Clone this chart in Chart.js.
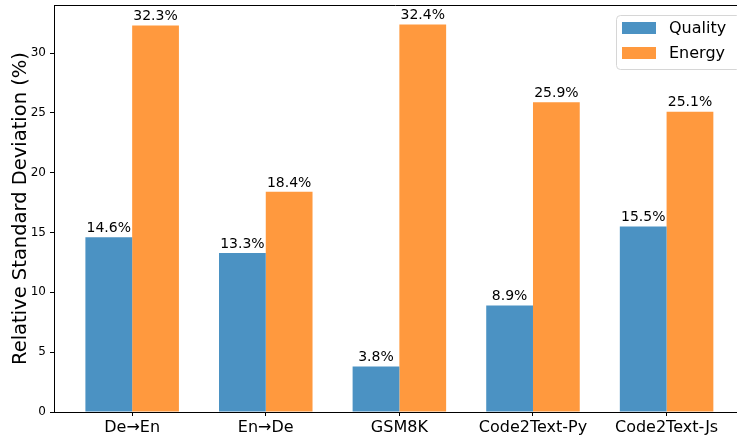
<!DOCTYPE html>
<html>
<head>
<meta charset="utf-8">
<script src="https://cdn.jsdelivr.net/npm/chart.js@4/dist/chart.umd.min.js"></script>
<style>
  html, body { margin: 0; padding: 0; overflow: hidden; background: #fff; }
  canvas { display: block; }
</style>
</head>
<body>
<canvas id="chart" width="737" height="438"></canvas>
<script>
// Chart data
const categories = ['De→En', 'En→De', 'GSM8K', 'Code2Text-Py', 'Code2Text-Js'];
const seriesNames = ['Quality', 'Energy'];
const qualityValues = [14.6, 13.3, 3.8, 8.9, 15.5];
const energyValues = [32.3, 18.4, 32.4, 25.9, 25.1];
const yTicks = [0, 5, 10, 15, 20, 25, 30];

const blue = '#4b92c3';
const orange = '#ff993e';

Chart.defaults.font.family = 'DejaVu Sans';
Chart.defaults.color = '#000';

// Percent labels on top of each bar
const barLabels = {
    id: 'barLabels',
    afterDatasetsDraw(chart) {
        const ctx = chart.ctx;
        ctx.save();
        ctx.font = '14px "DejaVu Sans"';
        ctx.fillStyle = '#000';
        ctx.textAlign = 'center';
        ctx.textBaseline = 'bottom';
        chart.data.datasets.forEach((ds, i) => {
            chart.getDatasetMeta(i).data.forEach((bar, j) => {
                ctx.fillText(ds.data[j].toFixed(1) + '%', bar.x, bar.y - 2);
            });
        });
        ctx.restore();
    }
};

// Top spine (the right one falls just outside the picture)
const frame = {
    id: 'frame',
    afterDraw(chart) {
        const {ctx, chartArea: a} = chart;
        ctx.save();
        ctx.strokeStyle = '#000';
        ctx.lineWidth = 1;
        ctx.beginPath();
        ctx.moveTo(a.left, a.top + 0.5);
        ctx.lineTo(a.right, a.top + 0.5);
        ctx.stroke();
        ctx.restore();
    }
};

// Matplotlib-like legend box in upper right, cut by the picture edge
const boxLegend = {
    id: 'boxLegend',
    afterDraw(chart) {
        const {ctx, chartArea: a} = chart;
        const x = a.right - 121, y = a.top + 10, w = 124, h = 54, r = 4;
        ctx.save();
        ctx.fillStyle = 'rgba(255,255,255,0.8)';
        ctx.strokeStyle = '#d6d6d6';
        ctx.lineWidth = 1;
        ctx.beginPath();
        ctx.roundRect(x + 0.5, y + 0.5, w, h, r);
        ctx.fill();
        ctx.stroke();
        ctx.font = '16px "DejaVu Sans"';
        ctx.textBaseline = 'middle';
        ctx.textAlign = 'left';
        chart.data.datasets.forEach((ds, i) => {
            const cy = y + 13 + i * 25;
            ctx.fillStyle = ds.backgroundColor;
            ctx.fillRect(x + 6, cy - 6, 34, 12);
            ctx.fillStyle = '#000';
            ctx.fillText(ds.label, x + 53, cy + 1);
        });
        ctx.restore();
    }
};

new Chart(document.getElementById('chart'), {
    type: 'bar',
    data: {
        labels: categories.map((c, i) => i),
        datasets: [
            { label: seriesNames[0], data: qualityValues, backgroundColor: blue },
            { label: seriesNames[1], data: energyValues, backgroundColor: orange }
        ]
    },
    options: {
        responsive: false,
        animation: false,
        devicePixelRatio: 1,
        categoryPercentage: 0.7,
        barPercentage: 1.0,
        layout: { padding: { top: 5, right: 0, left: 0, bottom: 0 } },
        plugins: {
            legend: { display: false },
            tooltip: { enabled: false }
        },
        scales: {
            x: {
                type: 'linear',
                offset: false,
                min: -0.585,
                max: 4.527,
                afterBuildTicks: scale => {
                    scale.ticks = categories.map((c, i) => ({ value: i }));
                },
                afterFit: scale => {
                    scale.height = 26;
                    scale.paddingLeft = 0;
                    scale.paddingRight = 0;
                },
                grid: { offset: false, drawOnChartArea: false, tickLength: 4, tickColor: '#000' },
                border: { color: '#000', width: 1 },
                ticks: {
                    font: { size: 16 },
                    padding: 2,
                    maxRotation: 0,
                    autoSkip: false,
                    callback: v => categories[v]
                }
            },
            y: {
                min: 0,
                max: 34.02,
                afterBuildTicks: scale => {
                    scale.ticks = yTicks.map(v => ({ value: v }));
                },
                afterFit: scale => {
                    scale.width = 54;
                    scale.paddingTop = 0;
                    scale.paddingBottom = 0;
                },
                grid: { drawOnChartArea: false, tickLength: 4, tickColor: '#000' },
                border: { color: '#000', width: 1 },
                ticks: { font: { size: 12 }, padding: 4 },
                title: {
                    display: true,
                    text: 'Relative Standard Deviation (%)',
                    font: { size: 19.5 },
                    padding: { top: 9, bottom: 0 }
                }
            }
        }
    },
    plugins: [barLabels, frame, boxLegend]
});
</script>
</body>
</html>
